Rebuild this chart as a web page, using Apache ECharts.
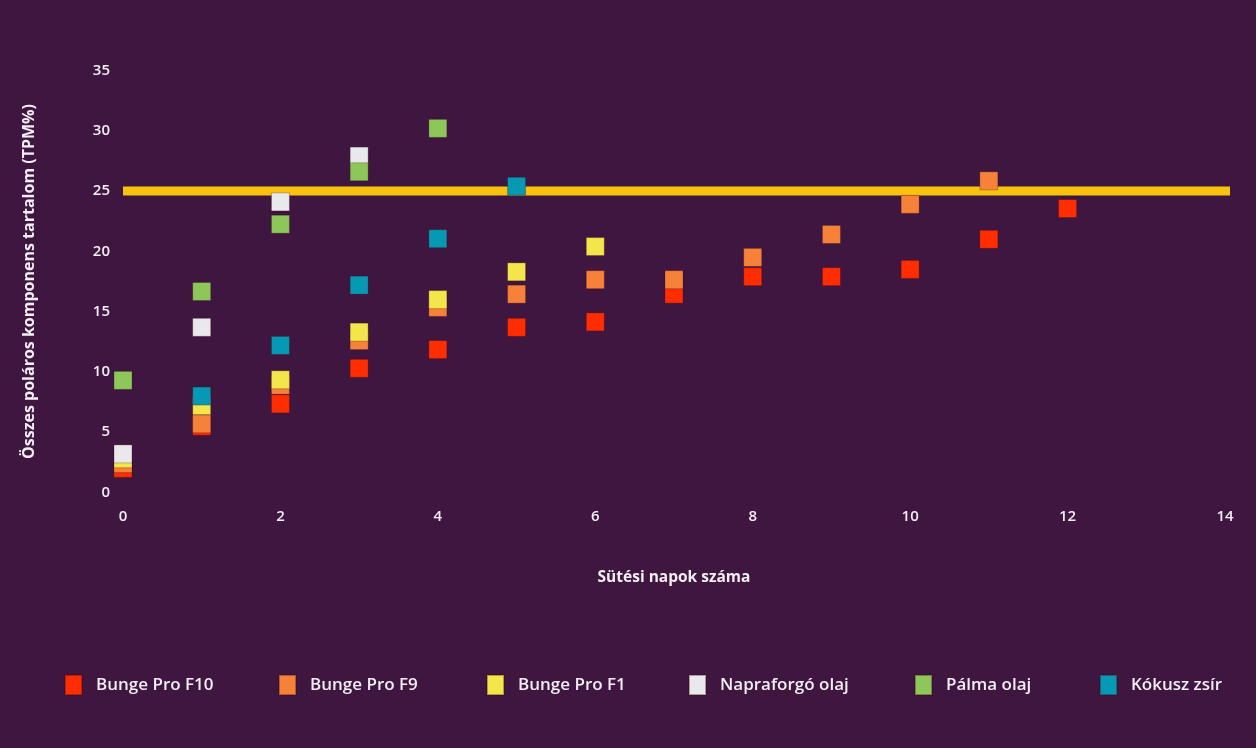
<!DOCTYPE html>
<html><head><meta charset="utf-8">
<script src="https://cdn.jsdelivr.net/npm/echarts@6/dist/echarts.min.js"></script>
<style>html,body{margin:0;padding:0;background:#3f1640;}#c{width:1256px;height:748px;}</style>
</head><body><div id="c"></div>
<script>
const seriesNames = ['Bunge Pro F10','Bunge Pro F9','Bunge Pro F1','Napraforgó olaj','Pálma olaj','Kókusz zsír'];
const colors = ['#ff2d00','#f6823a','#f3e64b','#e9e8ec','#8dc759','#0599b4'];
const f10Days = [0,1,2,3,4,5,6,7,8,9,10,11,12];
const f10Vals = [2.0,5.5,7.35,10.3,11.85,13.7,14.15,16.45,17.9,17.9,18.5,21.0,23.55];
const f9Days = [0,1,2,3,4,5,6,7,8,9,10,11];
const f9Vals = [2.4,5.7,8.9,12.6,15.35,16.45,17.65,17.65,19.5,21.4,23.9,25.85];
const f1Days = [0,1,2,3,4,5,6];
const f1Vals = [2.8,7.2,9.35,13.3,16.0,18.3,20.4];
const sunDays = [0,1,2,3];
const sunVals = [3.2,13.7,24.1,27.9];
const palmDays = [0,1,2,3,4];
const palmVals = [9.3,16.67,22.25,26.6,30.2];
const cocoDays = [1,2,3,4,5];
const cocoVals = [8.0,12.2,17.2,21.05,25.4];
const limitX = [0,14.15];
const limitY = [25,25];
const xTicks = [0,2,4,6,8,10,12,14];
const yTicks = [0,5,10,15,20,25,30,35];

const allDays = [f10Days,f9Days,f1Days,sunDays,palmDays,cocoDays];
const allVals = [f10Vals,f9Vals,f1Vals,sunVals,palmVals,cocoVals];

const chart = echarts.init(document.getElementById('c'));
const legendX = [59,273,481,683,909,1094];
const txt = '#f2eef3';
const font = 'Open Sans';
const option = {
  backgroundColor:'#3f1640',
  animation:false,
  grid:{left:123,right:31,top:70.5,bottom:255.5},
  legend: seriesNames.map((n,i)=>({
    data:[n], left:legendX[i], top:669, itemWidth:17, itemHeight:20, itemGap:0,
    icon:'rect',
    textStyle:{color:txt,fontSize:17,fontFamily:font,fontWeight:600,padding:[0,0,0,9]}
  })),
  xAxis:{type:'value',min:xTicks[0],max:xTicks[xTicks.length-1],interval:2,
    name:'Sütési napok száma',nameLocation:'middle',nameGap:77,
    nameTextStyle:{color:txt,fontSize:15.5,fontWeight:'bold',fontFamily:font},
    axisLine:{show:false},axisTick:{show:false},splitLine:{show:false},
    axisLabel:{color:txt,fontSize:15,fontFamily:font,fontWeight:600,margin:17}},
  yAxis:{type:'value',min:yTicks[0],max:yTicks[yTicks.length-1],interval:5,
    name:'Összes poláros komponens tartalom (TPM%)',nameLocation:'middle',nameGap:86,
    nameTextStyle:{color:txt,fontSize:16,fontWeight:'bold',fontFamily:font},
    axisLine:{show:false},axisTick:{show:false},splitLine:{show:false},
    axisLabel:{color:txt,fontSize:15,fontFamily:font,fontWeight:600,margin:13}},
  series:[
    {type:'line',name:'limit',data:limitX.map((x,i)=>[x,limitY[i]]),clip:false,
     symbol:'none',lineStyle:{color:'#f7c30f',width:9,cap:'butt'},z:1,silent:true},
    ...seriesNames.map((n,i)=>({
      type:'scatter',name:n,symbol:'rect',symbolSize:18,z:2+i,
      itemStyle:{color:colors[i],opacity:1,borderColor:'rgba(60,10,20,0.35)',borderWidth:0.8},
      data:allDays[i].map((d,j)=>[d,allVals[i][j]])
    }))
  ]
};
chart.setOption(option);
</script></body></html>
